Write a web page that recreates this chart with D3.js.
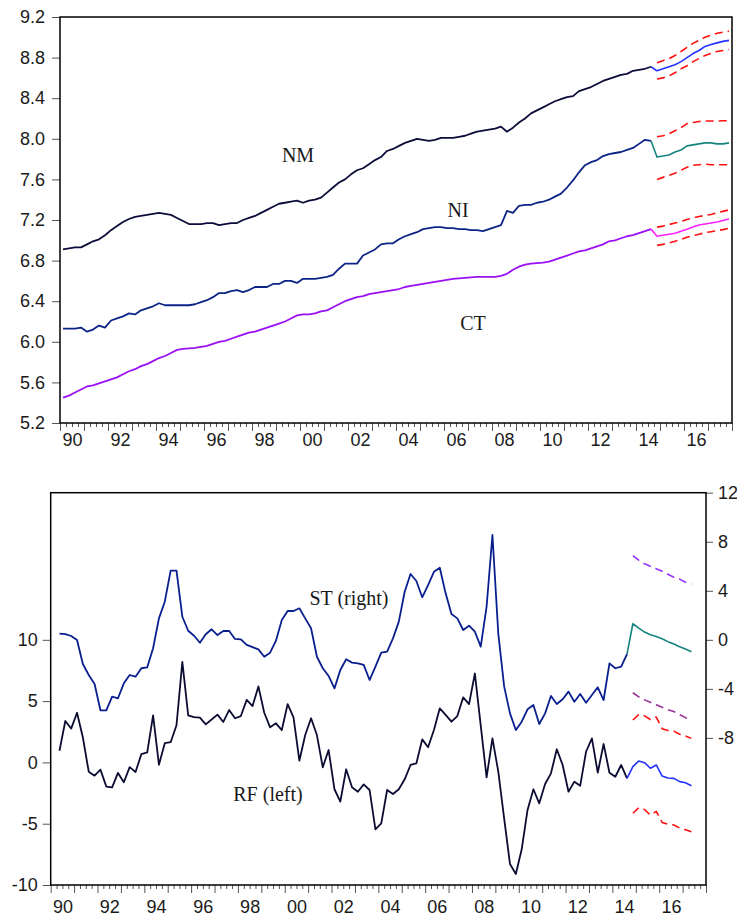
<!DOCTYPE html>
<html>
<head>
<meta charset="utf-8">
<script src="https://cdn.jsdelivr.net/npm/d3@7"></script>
<style>
  body { margin: 0; background: #fff; }
  svg { display: block; }
  .tick text { font-family: "Liberation Sans", Arial, sans-serif; font-size: 18px; fill: #1a1a1a; }
  .tick line { stroke: #555; }
  .domain { display: none; }
  .lbl { font-family: "Liberation Serif", "Times New Roman", serif; font-size: 20px; fill: #1a1a1a; }
</style>
</head>
<body>
<div id="chart"></div>
<script>
// ---- data (quarterly) ----
// top panel: 1990Q1 .. 2014Q3, forecasts 2014Q4 .. 2017Q4
const topStart = 1990.0;
const nm = [6.91,6.92,6.93,6.93,6.96,6.99,7.01,7.05,7.10,7.14,
  7.18,7.21,7.23,7.24,7.25,7.26,7.27,7.26,7.25,7.22,
  7.19,7.16,7.16,7.16,7.17,7.17,7.15,7.16,7.17,7.17,
  7.20,7.22,7.24,7.27,7.30,7.33,7.36,7.37,7.38,7.39,
  7.37,7.39,7.40,7.42,7.47,7.52,7.57,7.60,7.65,7.69,
  7.71,7.75,7.79,7.82,7.88,7.90,7.93,7.96,7.98,8.00,
  7.99,7.98,7.99,8.01,8.01,8.01,8.02,8.03,8.05,8.07,
  8.08,8.09,8.10,8.12,8.07,8.11,8.16,8.20,8.25,8.28,
  8.31,8.34,8.37,8.39,8.41,8.42,8.47,8.49,8.51,8.54,
  8.57,8.59,8.61,8.63,8.64,8.67,8.68,8.69,8.71];
const ni = [6.13,6.13,6.13,6.14,6.10,6.12,6.16,6.14,6.21,6.23,
  6.25,6.28,6.27,6.31,6.33,6.35,6.38,6.36,6.36,6.36,
  6.36,6.36,6.37,6.39,6.41,6.44,6.48,6.48,6.50,6.51,
  6.49,6.51,6.54,6.54,6.54,6.57,6.57,6.60,6.60,6.58,
  6.62,6.62,6.62,6.63,6.64,6.66,6.72,6.77,6.77,6.77,
  6.85,6.88,6.91,6.96,6.97,6.97,7.01,7.04,7.06,7.08,
  7.11,7.12,7.13,7.13,7.12,7.12,7.11,7.11,7.10,7.10,
  7.09,7.11,7.13,7.15,7.29,7.27,7.34,7.35,7.35,7.37,
  7.38,7.40,7.43,7.46,7.52,7.59,7.67,7.74,7.77,7.79,
  7.83,7.85,7.86,7.87,7.89,7.91,7.95,7.99,7.98];
const ct = [5.45,5.47,5.50,5.53,5.56,5.57,5.59,5.61,5.63,5.65,
  5.68,5.71,5.73,5.76,5.78,5.81,5.84,5.86,5.89,5.92,
  5.93,5.935,5.94,5.95,5.96,5.98,6.00,6.01,6.03,6.05,
  6.07,6.09,6.10,6.12,6.14,6.16,6.18,6.20,6.23,6.26,
  6.27,6.27,6.28,6.30,6.31,6.34,6.37,6.40,6.42,6.44,
  6.45,6.47,6.48,6.49,6.50,6.51,6.52,6.54,6.55,6.56,
  6.57,6.58,6.59,6.60,6.61,6.62,6.625,6.63,6.635,6.64,
  6.64,6.64,6.64,6.65,6.67,6.71,6.74,6.76,6.77,6.775,
  6.78,6.79,6.81,6.83,6.85,6.87,6.89,6.90,6.92,6.94,
  6.96,6.99,7.00,7.02,7.04,7.05,7.07,7.09,7.11];

const nmF  = [8.67,8.69,8.71,8.73,8.76,8.80,8.84,8.87,8.91,8.93,8.945,8.96,8.97];
const nmHi = [8.75,8.77,8.79,8.82,8.86,8.90,8.94,8.97,9.00,9.02,9.04,9.05,9.06];
const nmLo = [8.59,8.60,8.62,8.65,8.69,8.72,8.76,8.79,8.82,8.84,8.86,8.87,8.88];
const niF  = [7.82,7.83,7.84,7.87,7.89,7.93,7.94,7.95,7.96,7.96,7.95,7.95,7.96];
const niHi = [8.02,8.03,8.05,8.08,8.11,8.15,8.16,8.17,8.175,8.175,8.175,8.178,8.178];
const niLo = [7.60,7.62,7.64,7.66,7.69,7.72,7.74,7.745,7.75,7.745,7.745,7.745,7.745];
const ctF  = [7.04,7.05,7.06,7.07,7.09,7.11,7.13,7.15,7.16,7.17,7.18,7.195,7.21];
const ctHi = [7.13,7.14,7.155,7.17,7.185,7.205,7.22,7.235,7.245,7.255,7.27,7.285,7.30];
const ctLo = [6.95,6.96,6.975,6.99,7.01,7.03,7.045,7.06,7.075,7.085,7.095,7.105,7.12];

// bottom panel: 1990Q2 .. 2014Q3, forecasts 2014Q4 .. 2017Q2
const botStart = 1990.25;
const rf = [0.95,3.38,2.76,4.05,2.03,-0.76,-1.08,-0.59,-1.97,-2.03,
  -0.86,-1.62,-0.38,-0.78,0.68,0.81,3.84,-0.19,1.57,1.65,
  3.03,8.2,3.84,3.7,3.65,3.1,3.5,3.9,3.3,4.27,
  3.6,3.78,5.1,4.6,6.2,4.05,2.86,3.19,2.64,4.76,
  3.68,0.14,2.23,3.6,2.23,-0.4,1.01,-2.19,-3.2,-0.56,
  -2.03,-2.39,-1.79,-2.25,-5.46,-4.97,-2.25,-2.58,-2.19,-1.38,
  -0.21,-0.07,1.88,1.23,2.64,4.41,3.87,3.32,3.78,5.31,
  4.76,7.25,3.0,-1.22,1.96,-0.76,-4.56,-8.29,-9.1,-7.09,
  -3.88,-2.19,-3.34,-1.76,-0.89,1.07,-0.21,-2.39,-1.57,-1.9,
  0.87,1.96,-0.84,1.5,-0.84,-1.17,-0.21,-1.3];
const st = [0.5,0.47,0.31,-0.02,-1.97,-2.87,-3.6,-5.75,-5.75,-4.64,
  -4.77,-3.55,-2.87,-3.01,-2.32,-2.24,-0.69,1.75,3.11,5.64,
  5.64,1.88,0.74,0.33,-0.24,0.45,0.86,0.39,0.72,0.72,
  0.07,0.04,-0.42,-0.6,-0.78,-1.38,-1.05,-0.07,1.61,2.35,
  2.35,2.57,1.75,0.94,-1.38,-2.32,-2.95,-3.96,-2.46,-1.59,
  -1.86,-1.92,-2.05,-3.28,-2.19,-1.05,-0.97,0.12,1.48,3.92,
  5.37,4.8,3.47,4.47,5.55,5.88,3.79,2.1,1.75,0.8,
  1.15,0.66,-0.56,2.7,8.55,0.5,-3.8,-6.0,-7.36,-6.68,
  -5.67,-5.32,-6.87,-6.0,-4.58,-5.24,-4.85,-4.23,-5.05,-4.42,
  -5.13,-4.5,-3.87,-4.91,-1.92,-2.32,-2.19,-1.16];

const rfF  = [-0.35,0.11,-0.02,-0.48,-0.21,-1.11,-1.27,-1.3,-1.57,-1.66,-1.9];
const rfHi = [3.46,3.9,3.8,3.5,3.7,2.75,2.6,2.55,2.3,2.15,1.96];
const rfLo = [-4.15,-3.7,-3.85,-4.3,-4.0,-4.9,-5.05,-5.1,-5.35,-5.5,-5.65];
const stF  = [1.31,0.96,0.63,0.41,0.27,0.08,-0.15,-0.34,-0.56,-0.75,-0.97];
const stHi = [6.86,6.5,6.2,6.0,5.8,5.6,5.35,5.1,4.95,4.7,4.55];
const stLo = [-4.32,-4.65,-4.9,-5.1,-5.3,-5.5,-5.7,-5.85,-6.1,-6.35,-6.55];

// axis ticks
const topYTicks = [5.2,5.6,6.0,6.4,6.8,7.2,7.6,8.0,8.4,8.8,9.2];
const leftTicks = [-10,-5,0,5,10];
const rightTicks = [-8,-4,0,4,8,12];
const yearLabels = ["90","92","94","96","98","00","02","04","06","08","10","12","14","16"];
const labelYears = d3.range(1990, 2018, 2);

const svg = d3.select("#chart").append("svg")
  .attr("width", 737)
  .attr("height", 918);

// helpers
function series(start, vals) {
  return vals.map((v, k) => [start + k * 0.25 + 0.125, v]);
}

function drawLine(g, x, y, pts, color, width, dash) {
  const line = d3.line().x(d => x(d[0])).y(d => y(d[1]));
  g.append("path")
    .datum(pts)
    .attr("d", line)
    .attr("fill", "none")
    .attr("stroke", color)
    .attr("stroke-width", width)
    .attr("stroke-linejoin", "round")
    .attr("stroke-dasharray", dash || null);
}

function xAxes(g, x, y0, pad) {
  const years = d3.range(1990, 2019);
  const quarters = d3.range(1990, 2018, 0.25).filter(d => d % 1 !== 0);
  g.append("g").attr("transform", `translate(0,${y0})`)
    .call(d3.axisBottom(x).tickValues(years).tickSize(8).tickFormat(""));
  g.append("g").attr("transform", `translate(0,${y0})`)
    .call(d3.axisBottom(x).tickValues(quarters).tickSize(4).tickFormat(""));
  g.append("g").attr("transform", `translate(0,${y0})`)
    .call(d3.axisBottom(x).tickValues(labelYears.map(d => d + 0.5))
      .tickSize(0).tickPadding(pad)
      .tickFormat((d, i) => yearLabels[i]));
}

// plain hyphen for negatives, like the original
const plain = d => String(d);

// ---- top panel ----
const xT = d3.scaleLinear().domain([1990, 2018]).range([60, 732]);
const yT = d3.scaleLinear().domain([5.2, 9.2]).range([423, 17]);
const topG = svg.append("g");

topG.append("g").attr("transform", "translate(60,0)")
  .call(d3.axisLeft(yT).tickValues(topYTicks).tickSize(8).tickPadding(7)
    .tickFormat(d3.format(".1f")));
xAxes(topG, xT, 423, 10);

const fStart = topStart + nm.length * 0.25;
const lastT = topStart + (nm.length - 1) * 0.25;

drawLine(topG, xT, yT, series(topStart, ct), "#9b10f5", 1.8);
drawLine(topG, xT, yT, series(topStart, ni), "#0c2485", 1.8);
drawLine(topG, xT, yT, series(topStart, nm), "#0c0c3a", 1.8);

drawLine(topG, xT, yT, series(lastT, [nm[nm.length - 1]].concat(nmF)), "#2233ff", 1.6);
drawLine(topG, xT, yT, series(lastT, [ni[ni.length - 1]].concat(niF)), "#16847e", 1.6);
drawLine(topG, xT, yT, series(lastT, [ct[ct.length - 1]].concat(ctF)), "#ff22ff", 1.6);
[nmHi, nmLo, niHi, niLo, ctHi, ctLo].forEach(b => {
  drawLine(topG, xT, yT, series(fStart, b), "#ff1010", 1.6, "8,5");
});

topG.append("rect")
  .attr("x", 60).attr("y", 17).attr("width", 672).attr("height", 406)
  .attr("fill", "none").attr("stroke", "#000").attr("stroke-width", 1.5);

topG.append("text").attr("class", "lbl").attr("x", 298).attr("y", 162).attr("text-anchor", "middle").text("NM");
topG.append("text").attr("class", "lbl").attr("x", 458).attr("y", 217).attr("text-anchor", "middle").text("NI");
topG.append("text").attr("class", "lbl").attr("x", 473).attr("y", 330).attr("text-anchor", "middle").text("CT");

// ---- bottom panel ----
const xB = d3.scaleLinear().domain([1990, 2018]).range([50.7, 706]);
const yL = d3.scaleLinear().domain([-10, 22]).range([885, 492.7]);
const yR = d3.scaleLinear().domain([-20, 12]).range([885, 492.7]);
const botG = svg.append("g");

botG.append("g").attr("transform", "translate(50.7,0)")
  .call(d3.axisLeft(yL).tickValues(leftTicks).tickSize(8).tickPadding(5).tickFormat(plain));
botG.append("g").attr("transform", "translate(706,0)")
  .call(d3.axisRight(yR).tickValues(rightTicks).tickSize(7).tickPadding(5).tickFormat(plain));
xAxes(botG, xB, 885, 15);

const bfStart = botStart + rf.length * 0.25;
const lastB = botStart + (rf.length - 1) * 0.25;

drawLine(botG, xB, yR, series(botStart, st), "#0a1f8f", 1.8);
drawLine(botG, xB, yL, series(botStart, rf), "#0c0c33", 1.8);

drawLine(botG, xB, yL, series(lastB, [rf[rf.length - 1]].concat(rfF)), "#2233ff", 1.6);
drawLine(botG, xB, yR, series(lastB, [st[st.length - 1]].concat(stF)), "#16847e", 1.6);
drawLine(botG, xB, yL, series(bfStart, rfHi), "#ff1010", 1.6, "8,5");
drawLine(botG, xB, yL, series(bfStart, rfLo), "#ff1010", 1.6, "8,5");
drawLine(botG, xB, yR, series(bfStart, stHi), "#9933ff", 1.6, "8,5");
drawLine(botG, xB, yR, series(bfStart, stLo), "#993399", 1.6, "8,5");

botG.append("rect")
  .attr("x", 50.7).attr("y", 492.7).attr("width", 655.3).attr("height", 392.3)
  .attr("fill", "none").attr("stroke", "#000").attr("stroke-width", 1.5);

botG.append("text").attr("class", "lbl").attr("x", 349).attr("y", 605).attr("text-anchor", "middle").text("ST (right)");
botG.append("text").attr("class", "lbl").attr("x", 268).attr("y", 801).attr("text-anchor", "middle").text("RF (left)");
</script>
</body>
</html>
